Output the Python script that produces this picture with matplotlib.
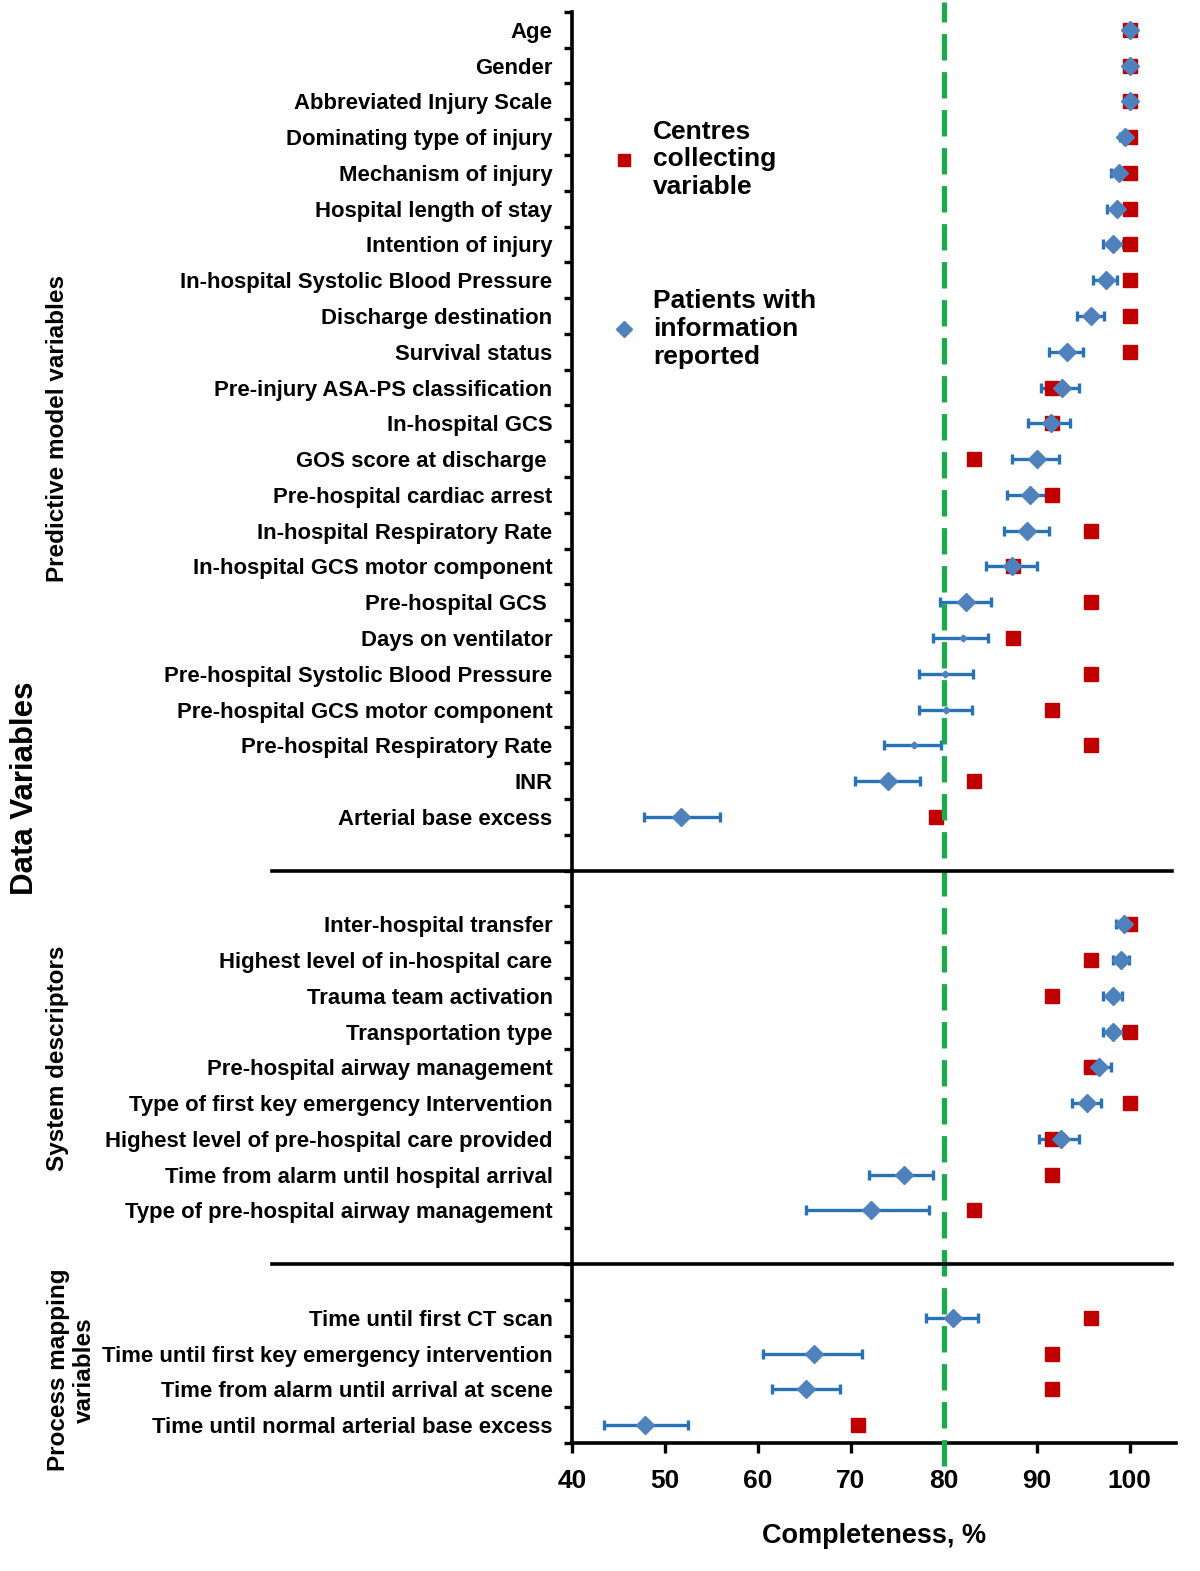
import matplotlib
matplotlib.use("Agg")
import matplotlib.pyplot as plt
import numpy as np

plt.rcParams["font.family"] = ["Liberation Sans", "DejaVu Sans"]

# ── Data (completeness, %) ─────────────────────────────────────────────────
pred_names = [
    "Age", "Gender", "Abbreviated Injury Scale", "Dominating type of injury",
    "Mechanism of injury", "Hospital length of stay", "Intention of injury",
    "In-hospital Systolic Blood Pressure", "Discharge destination",
    "Survival status", "Pre-injury ASA-PS classification", "In-hospital GCS",
    "GOS score at discharge ", "Pre-hospital cardiac arrest",
    "In-hospital Respiratory Rate", "In-hospital GCS motor component",
    "Pre-hospital GCS ", "Days on ventilator",
    "Pre-hospital Systolic Blood Pressure", "Pre-hospital GCS motor component",
    "Pre-hospital Respiratory Rate", "INR", "Arterial base excess",
]
pred_centres = [100, 100, 100, 100, 100, 100, 100, 100, 100, 100, 91.7, 91.7,
                83.3, 91.7, 95.8, 87.5, 95.8, 87.5, 95.8, 91.7, 95.8, 83.3, 79.2]
pred_patients = [100, 100, 100, 99.5, 98.9, 98.7, 98.2, 97.5, 95.9, 93.3, 92.7,
                 91.6, 90.0, 89.3, 89.0, 87.4, 82.4, 82.1, 80.1, 80.2, 76.8,
                 74.0, 51.7]
pred_lo = [100, 100, 100, 99.0, 98.0, 97.6, 97.1, 96.1, 94.3, 91.3, 90.5, 89.1,
           87.3, 86.8, 86.5, 84.6, 79.6, 78.9, 77.3, 77.3, 73.6, 70.4, 47.7]
pred_hi = [100, 100, 100, 99.8, 99.5, 99.5, 99.3, 98.6, 97.3, 95.0, 94.6, 93.6,
           92.4, 91.6, 91.3, 90.0, 85.1, 84.8, 83.1, 83.0, 79.7, 77.4, 55.9]

sys_names = [
    "Inter-hospital transfer", "Highest level of in-hospital care",
    "Trauma team activation", "Transportation type",
    "Pre-hospital airway management",
    "Type of first key emergency Intervention",
    "Highest level of pre-hospital care provided",
    "Time from alarm until hospital arrival",
    "Type of pre-hospital airway management",
]
sys_centres = [100, 95.8, 91.7, 100, 95.8, 100, 91.7, 91.7, 83.3]
sys_patients = [99.45, 99.1, 98.2, 98.2, 96.7, 95.4, 92.6, 75.7, 72.2]
sys_lo = [98.5, 98.2, 97.1, 97.1, 95.2, 93.8, 90.3, 72.0, 65.2]
sys_hi = [100, 99.9, 99.2, 99.3, 98.0, 96.9, 94.6, 78.8, 78.4]

proc_names = [
    "Time until first CT scan", "Time until first key emergency intervention",
    "Time from alarm until arrival at scene",
    "Time until normal arterial base excess",
]
proc_centres = [95.8, 91.7, 91.7, 70.8]
proc_patients = [81.0, 66.0, 65.15, 47.85]
proc_lo = [78.1, 60.5, 61.5, 43.4]
proc_hi = [83.7, 71.2, 68.8, 52.5]

group_titles = ["Predictive model variables", "System descriptors",
                "Process mapping\nvariables"]
threshold = 80

# ── Row layout: groups separated by a gap of two rows ─────────────────────
groups = [pred_names, sys_names, proc_names]
ypos, seps, start = [], [], 0
for g in groups:
    ypos.extend(range(start, start + len(g)))
    start += len(g) + 2
    seps.append(start - 1.5)
seps = seps[:-1]
ypos = np.array(ypos)

names = pred_names + sys_names + proc_names
centres = np.array(pred_centres + sys_centres + proc_centres)
patients = np.array(pred_patients + sys_patients + proc_patients)
lo = np.array(pred_lo + sys_lo + proc_lo)
hi = np.array(pred_hi + sys_hi + proc_hi)

small_marker = {"Days on ventilator", "Pre-hospital Systolic Blood Pressure",
                "Pre-hospital GCS motor component", "Pre-hospital Respiratory Rate"}

RED = "#C00000"
BLUE = "#4F81BD"
BAR = "#2873B8"
GREEN = "#1DAA4E"

fig = plt.figure(figsize=(12, 15.71), dpi=100)
ax = fig.add_axes([0.4767, 0.0815, 0.5033, 0.9109])

ax.errorbar(patients, ypos, xerr=[patients - lo, hi - patients], fmt="none",
            ecolor=BAR, elinewidth=2.4, capsize=3.5, capthick=2.4, zorder=2)
sq, = ax.plot(centres, ypos, "s", color=RED, ms=10, mec=RED, ls="none", zorder=3)
big = np.array([n not in small_marker for n in names])
dm, = ax.plot(patients[big], ypos[big], "D", color=BLUE, ms=9, mec=BLUE,
              ls="none", zorder=4)
ax.plot(patients[~big], ypos[~big], "D", color=BLUE, ms=3.5, ls="none", zorder=4)

ax.axvline(threshold, ymin=-0.016, ymax=1.007, color=GREEN, lw=3.8,
           dashes=(5, 2.2), clip_on=False, zorder=5)

for s in seps:
    ax.plot([-0.497, 0.993], [s, s], color="black", lw=2.6,
            transform=ax.get_yaxis_transform(), clip_on=False, zorder=6)

ax.set_xlim(40, 105)
ax.set_ylim(39.5, -0.5)
ax.set_xticks(range(40, 101, 10))
ax.set_yticks(ypos)
ax.set_yticklabels(names, fontsize=15.9, fontweight="bold")
ax.set_yticks(np.arange(-0.5, 40, 1), minor=True)
ax.tick_params(axis="y", which="major", length=0, pad=14)
ax.tick_params(axis="y", which="minor", length=6, width=2.4, direction="out")
ax.tick_params(axis="x", length=7, width=2.4, labelsize=19, pad=12)
for lab in ax.get_xticklabels():
    lab.set_fontweight("bold")

for side in ["top", "right"]:
    ax.spines[side].set_visible(False)
for side in ["left", "bottom"]:
    ax.spines[side].set_linewidth(2.6)

ax.set_xlabel("Completeness, %", fontsize=19.5, fontweight="bold", labelpad=21)

ax.legend(handles=[sq, dm],
          labels=["Centres\ncollecting\nvariable", "Patients with\ninformation\nreported"],
          loc="upper left", bbox_to_anchor=(0.489, 0.939),
          bbox_transform=fig.transFigure, frameon=False,
          prop={"weight": "bold", "size": 19}, handlelength=1.0,
          handletextpad=0.6, labelspacing=3.4, markerscale=0.85)

# ── Group titles on the left ───────────────────────────────────────────────
fig.text(0.021, 1 - 788 / 1571, "Data Variables", rotation=90, fontsize=22.5,
         fontweight="bold", ha="center", va="center")
fig.text(0.048, 1 - 428 / 1571, group_titles[0], rotation=90, fontsize=17.5,
         fontweight="bold", ha="center", va="center")
fig.text(0.048, 1 - 1058 / 1571, group_titles[1], rotation=90, fontsize=17.5,
         fontweight="bold", ha="center", va="center")
fig.text(0.0595, 1 - 1370 / 1571, group_titles[2], rotation=90, fontsize=17.5,
         fontweight="bold", ha="center", va="center", multialignment="center")

fig.savefig("out.png", dpi=100)
